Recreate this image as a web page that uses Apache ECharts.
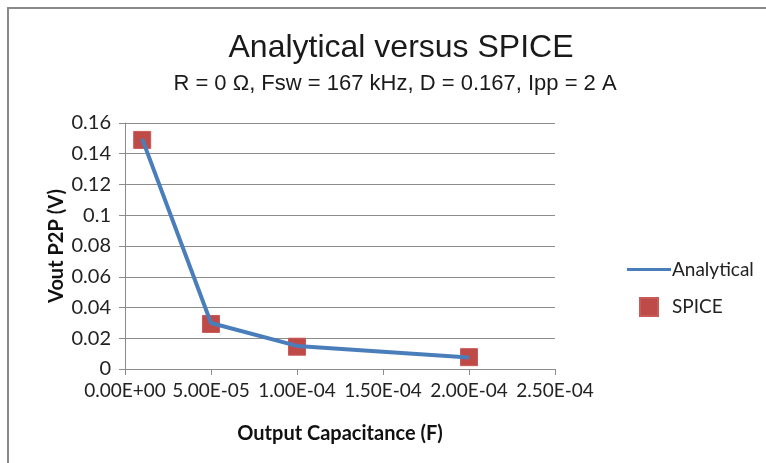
<!DOCTYPE html>
<html style="height: 100%;width: 100%">
<head>
    <meta charset="UTF-8">
    <script type="text/javascript" src="https://cdn.jsdelivr.net/npm/echarts@6/dist/echarts.min.js"></script>
    <title>Analytical versus SPICE</title>
    <style>
    body{
        margin: 0;
        background: #fff;
    }
    .frame{
        position: absolute;
        left: 7px;
        top: 7px;
        width: 800px;
        height: 500px;
        border: 2px solid #8a8a8a;
    }
</style>
</head>
<body style="width: 100%;height: 100%;">
<div class="frame"></div>
<div id="main" style="position:absolute;left:0;top:0;width: 766px;height:463px;"></div>
<script type="text/javascript">
    // 数据
    var capacitance = [1e-5, 5e-5, 1e-4, 2e-4];
    var analytical = [0.1497, 0.0299, 0.0150, 0.0075];
    var spice = [0.149, 0.0293, 0.0145, 0.0077];
    var xTicks = ['0.00E+00', '5.00E-05', '1.00E-04', '1.50E-04', '2.00E-04', '2.50E-04'];

    var myChart = echarts.init(document.getElementById('main'));

    function pairs(xs, ys) {
        var out = [];
        for (var i = 0; i < xs.length; i++) out.push([xs[i], ys[i]]);
        return out;
    }

    var labelFont = 'Lato, "Open Sans", sans-serif';
    var titleFont = '"Liberation Sans Narrow", "Liberation Sans", sans-serif';

    var option = {
        animation: false,
        title: [
            {
                text: 'Analytical versus SPICE',
                left: 396,
                textAlign: 'center',
                top: 27,
                textStyle: {fontFamily: titleFont, fontSize: 32, fontWeight: 'normal', color: '#1a1a1a'}
            },
            {
                text: 'R = 0 Ω, Fsw = 167 kHz, D = 0.167, Ipp = 2 A',
                left: 390,
                textAlign: 'center',
                top: 68,
                textStyle: {fontFamily: titleFont, fontSize: 22, fontWeight: 'normal', color: '#1a1a1a'}
            }
        ],
        legend: {
            orient: 'vertical',
            left: 622,
            top: 255,
            itemGap: 18,
            itemWidth: 44,
            itemHeight: 18,
            textStyle: {fontFamily: labelFont, fontSize: 19, color: '#222', padding: [0, 0, 0, -4]},
            data: [
                {name: 'Analytical', icon: 'path://M0,7.5 L44,7.5 L44,10.5 L0,10.5 Z'},
                {name: 'SPICE', icon: 'path://M17,0 L35,0 L35,18 L17,18 Z'}
            ]
        },
        grid: {
            left: 125,
            right: 211,
            top: 123,
            bottom: 94
        },
        xAxis: {
            type: 'value',
            min: 0,
            max: 2.5e-4,
            interval: 5e-5,
            name: 'Output Capacitance (F)',
            nameLocation: 'middle',
            nameGap: 55,
            nameMoveOverlap: false,
            nameTextStyle: {fontFamily: labelFont, fontSize: 20, fontWeight: 'bold', color: '#111'},
            axisLine: {show: true, lineStyle: {color: '#8c8c8c'}},
            axisTick: {show: true, length: 6, lineStyle: {color: '#8c8c8c'}},
            splitLine: {show: false},
            axisLabel: {
                fontFamily: labelFont,
                fontSize: 19,
                color: '#222',
                margin: 12,
                formatter: function (v) {
                    var idx = Math.round(v / 5e-5);
                    return xTicks[idx];
                }
            }
        },
        yAxis: {
            type: 'value',
            min: 0,
            max: 0.16,
            interval: 0.02,
            name: 'Vout P2P (V)',
            nameLocation: 'middle',
            nameGap: 58,
            nameMoveOverlap: false,
            nameTextStyle: {fontFamily: labelFont, fontSize: 20, fontWeight: 'bold', color: '#111'},
            axisLine: {show: true, lineStyle: {color: '#8c8c8c'}},
            axisTick: {show: true, length: 6, lineStyle: {color: '#8c8c8c'}},
            splitLine: {show: true, lineStyle: {color: '#8c8c8c'}},
            axisLabel: {
                fontFamily: labelFont,
                fontSize: 20,
                color: '#222',
                margin: 14,
                formatter: function (v) {
                    return String(parseFloat(v.toFixed(2)));
                }
            }
        },
        series: [
            {
                name: 'Analytical',
                type: 'line',
                data: pairs(capacitance, analytical),
                showSymbol: false,
                symbol: 'none',
                lineStyle: {color: '#4a7ebb', width: 4},
                itemStyle: {color: '#4a7ebb'}
            },
            {
                name: 'SPICE',
                type: 'scatter',
                data: pairs(capacitance, spice),
                symbol: 'rect',
                symbolSize: 17,
                itemStyle: {color: '#be4b48', opacity: 1, borderColor: '#c85a57', borderWidth: 1}
            }
        ]
    };

    myChart.setOption(option);
</script>
</body>
</html>
